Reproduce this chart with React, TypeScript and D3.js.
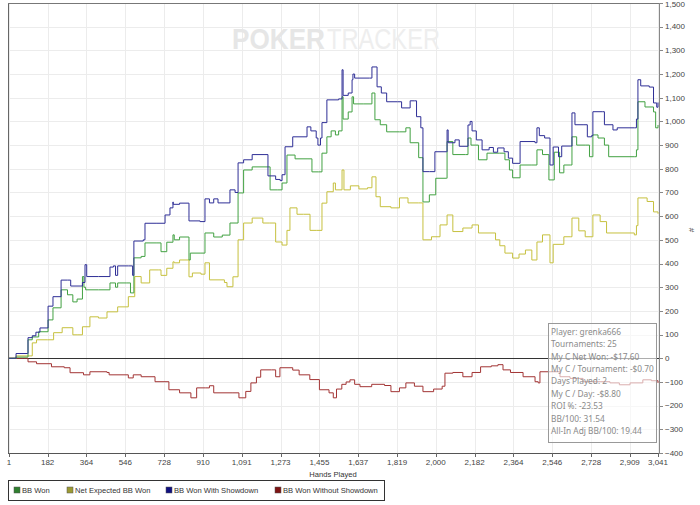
import React from 'react';
import * as d3 from 'd3';

// hand number, big blinds
const bbWon: [number, number][] = [
  [1, 0], [30, 0], [34, 5], [88, 5], [90, 78], [110, 90], [140, 112], [184, 162], [207, 213],
  [245, 289], [275, 268], [300, 238], [320, 250], [345, 345], [352, 300], [360, 289], [420, 289],
  [474, 318], [500, 300], [510, 318], [550, 318], [570, 276], [586, 424], [620, 430], [638, 487],
  [690, 487], [713, 450], [740, 490], [769, 521], [775, 500], [800, 512], [840, 512], [844, 415],
  [850, 444], [896, 444], [919, 529], [960, 512], [1000, 520], [1036, 571], [1074, 698], [1100, 795],
  [1140, 808], [1200, 808], [1224, 711], [1260, 711], [1280, 740], [1303, 858], [1341, 842],
  [1397, 842], [1420, 787], [1450, 787], [1467, 866], [1490, 935], [1510, 960], [1530, 943],
  [1545, 960], [1561, 1104], [1566, 1010], [1590, 1040], [1608, 1104], [1615, 1074], [1660, 1074],
  [1701, 1120], [1715, 1007], [1740, 986], [1770, 956], [1830, 956], [1860, 973], [1880, 910],
  [1920, 847], [1935, 847], [1940, 660], [1970, 690], [2000, 760], [2050, 760], [2053, 915],
  [2080, 860], [2140, 860], [2151, 930], [2165, 900], [2200, 838], [2240, 866], [2300, 866],
  [2324, 838], [2345, 795], [2360, 762], [2395, 816], [2450, 816], [2474, 880], [2500, 860],
  [2530, 753], [2555, 870], [2580, 783], [2600, 816], [2630, 816], [2638, 935], [2660, 900],
  [2700, 900], [2720, 851], [2736, 943], [2760, 930], [2790, 900], [2810, 851], [2930, 851],
  [2940, 880], [2947, 1083], [2980, 1061], [3020, 1040], [3030, 973], [3041, 985],
];

const netExpectedBbWon: [number, number][] = [
  [1, 0], [34, 10], [100, 10], [110, 65], [130, 78], [180, 78], [210, 108], [250, 129], [300, 99],
  [320, 99], [345, 133], [380, 175], [420, 170], [460, 196], [510, 217], [560, 260], [590, 345],
  [620, 318], [660, 373], [700, 373], [713, 350], [740, 380], [769, 407], [775, 403], [800, 415],
  [840, 415], [844, 344], [860, 360], [900, 355], [919, 403], [940, 331], [980, 331], [1010, 320],
  [1022, 302], [1050, 344], [1074, 500], [1100, 571], [1140, 592], [1190, 571], [1220, 571],
  [1250, 491], [1280, 478], [1303, 540], [1317, 635], [1350, 608], [1380, 608], [1411, 540],
  [1440, 540], [1467, 655], [1490, 703], [1520, 740], [1530, 711], [1561, 795], [1570, 711],
  [1600, 728], [1640, 715], [1680, 720], [1701, 766], [1720, 682], [1740, 640], [1790, 635],
  [1830, 677], [1870, 656], [1920, 656], [1940, 500], [1980, 513], [2020, 563], [2053, 605],
  [2080, 535], [2127, 550], [2170, 563], [2200, 529], [2254, 529], [2280, 500], [2300, 475],
  [2324, 444], [2360, 423], [2390, 440], [2420, 457], [2450, 415], [2474, 491], [2500, 521],
  [2535, 403], [2550, 481], [2600, 513], [2630, 513], [2638, 592], [2670, 538], [2700, 513],
  [2736, 605], [2770, 577], [2800, 529], [2930, 521], [2940, 560], [2947, 677], [2990, 662],
  [3020, 618], [3041, 610],
];

const bbWonWithShowdown: [number, number][] = [
  [1, 0], [30, 0], [34, 20], [88, 20], [90, 87], [110, 95], [127, 110], [146, 128], [184, 220],
  [207, 260], [245, 330], [275, 330], [290, 305], [334, 305], [345, 320], [357, 395], [365, 345],
  [420, 345], [474, 385], [490, 390], [500, 350], [510, 390], [560, 390], [580, 350], [586, 495],
  [630, 500], [638, 570], [690, 570], [732, 605], [755, 635], [769, 660], [770, 650], [800, 655],
  [840, 655], [844, 580], [896, 577], [919, 673], [940, 656], [960, 673], [980, 656], [1022, 656],
  [1036, 711], [1060, 700], [1074, 825], [1100, 838], [1140, 860], [1200, 860], [1214, 770],
  [1250, 755], [1271, 750], [1280, 775], [1294, 893], [1330, 935], [1397, 977], [1415, 960],
  [1440, 930], [1448, 900], [1460, 930], [1467, 995], [1481, 995], [1490, 1091], [1545, 1095],
  [1561, 1218], [1566, 1110], [1590, 1120], [1608, 1176], [1612, 1200], [1620, 1183], [1690, 1183],
  [1701, 1230], [1720, 1230], [1725, 1146], [1745, 1120], [1770, 1083], [1820, 1083], [1840, 1057],
  [1870, 1057], [1880, 1087], [1900, 1087], [1910, 1020], [1930, 973], [1940, 788], [1970, 788],
  [1996, 872], [2050, 872], [2053, 964], [2058, 910], [2090, 922], [2110, 895], [2151, 985],
  [2161, 1000], [2170, 960], [2190, 922], [2217, 880], [2250, 890], [2270, 870], [2290, 888],
  [2320, 872], [2340, 845], [2360, 823], [2390, 823], [2395, 915], [2465, 910], [2474, 973],
  [2485, 940], [2510, 930], [2535, 816], [2550, 892], [2575, 851], [2590, 896], [2630, 896],
  [2638, 1036], [2652, 986], [2690, 986], [2710, 935], [2730, 940], [2736, 1041], [2780, 1041],
  [2790, 986], [2830, 964], [2850, 973], [2930, 973], [2940, 1010], [2947, 1176], [2960, 1150],
  [3000, 1145], [3020, 1078], [3035, 1060], [3041, 1080],
];

const bbWonWithoutShowdown: [number, number][] = [
  [1, 0], [70, 0], [90, -15], [130, -23], [200, -36], [260, -40], [287, -61], [350, -70],
  [380, -57], [460, -60], [470, -70], [560, -83], [583, -70], [620, -78], [685, -99], [750, -133],
  [800, -146], [853, -167], [880, -125], [920, -125], [940, -116], [960, -146], [1050, -146],
  [1078, -167], [1110, -140], [1134, -104], [1160, -80], [1180, -49], [1230, -49], [1250, -78],
  [1270, -40], [1330, -50], [1360, -70], [1410, -90], [1455, -133], [1500, -146], [1520, -167],
  [1535, -130], [1560, -110], [1580, -100], [1598, -91], [1620, -110], [1645, -120], [1700, -110],
  [1760, -115], [1790, -141], [1830, -125], [1860, -104], [1900, -118], [1940, -141], [1990, -130],
  [2030, -118], [2043, -63], [2080, -60], [2127, -78], [2170, -60], [2210, -36], [2260, -32],
  [2291, -27], [2315, -49], [2350, -60], [2409, -78], [2465, -99], [2480, -104], [2488, -57],
  [2535, -57], [2582, -78], [2629, -85], [2690, -99], [2770, -99], [2816, -104], [2860, -112],
  [2910, -104], [2970, -91], [3010, -95], [3041, -104],
];

const xTicks = [1, 182, 364, 546, 728, 910, 1091, 1273, 1455, 1637, 1819, 2000, 2182, 2364, 2546, 2728, 2909, 3041];
const yTicks = [-400, -300, -200, -100, 0, 100, 200, 300, 400, 500, 600, 700, 800, 900, 1000, 1100, 1200, 1300, 1400, 1500];

const series = [
  { name: 'BB Won', data: bbWon, line: '#42a142', swatch: '#2f7f2f' },
  { name: 'Net Expected BB Won', data: netExpectedBbWon, line: '#c6c03e', swatch: '#9c9a33' },
  { name: 'BB Won With Showdown', data: bbWonWithShowdown, line: '#2e2e96', swatch: '#101080' },
  { name: 'BB Won Without Showdown', data: bbWonWithoutShowdown, line: '#a23434', swatch: '#7d1414' },
];

const statLines = [
  'Player: grenka666',
  'Tournaments: 25',
  'My C Net Won: -$17.60',
  'My C / Tournament: -$0.70',
  'Days Played: 2',
  'My C / Day: -$8.80',
  'ROI %: -23.53',
  'BB/100: 31.54',
  'All-In Adj BB/100: 19.44',
];

const legendX = [14, 67, 166, 275];

const W = 700;
const H = 505;
const plot = { left: 9, right: 658, top: 3, bottom: 453 };
const axisFont = '"Liberation Sans", Arial, sans-serif';

export default function App() {
  const x = d3.scaleLinear().domain([1, 3041]).range([plot.left, plot.right]);
  const y = d3.scaleLinear().domain([-400, 1500]).range([plot.bottom, plot.top]);
  const line = d3.line<[number, number]>()
    .x(d => x(d[0]))
    .y(d => y(d[1]))
    .curve(d3.curveStepAfter);
  const fmt = d3.format(',');

  return (
    <svg width={W} height={H} style={{ position: 'absolute', left: 0, top: 0, background: '#fff' }}>
      {/* grid */}
      <g stroke="#ececec" strokeWidth={1}>
        {xTicks.map(t => (
          <line key={'gx' + t} x1={Math.round(x(t)) + 0.5} x2={Math.round(x(t)) + 0.5} y1={plot.top} y2={plot.bottom} />
        ))}
        {yTicks.map(t => (
          <line key={'gy' + t} x1={8} x2={660} y1={Math.round(y(t)) + 0.5} y2={Math.round(y(t)) + 0.5} />
        ))}
      </g>

      {/* watermark */}
      <text x={232} y={49} fontFamily={axisFont} fontWeight="bold" fontSize={29} fill="#e6e6e6"
        textLength={93} lengthAdjust="spacingAndGlyphs">POKER</text>
      <text x={327} y={49} fontFamily={axisFont} fontSize={29} fill="#eeeeee"
        textLength={113} lengthAdjust="spacingAndGlyphs">TRACKER</text>

      {/* zero line */}
      <line x1={8} x2={660} y1={Math.round(y(0)) + 0.5} y2={Math.round(y(0)) + 0.5} stroke="#333" strokeWidth={1} />

      {/* series */}
      {[3, 1, 0, 2].map(i => (
        <path key={series[i].name} d={line(series[i].data) || ''} fill="none" stroke={series[i].line} strokeWidth={1} />
      ))}

      {/* frame */}
      <line x1={8.5} x2={8.5} y1={3} y2={453} stroke="#666" />
      <line x1={8} x2={660} y1={3.5} y2={3.5} stroke="#777" />
      <line x1={8} x2={661} y1={453.5} y2={453.5} stroke="#555" />
      <line x1={659.5} x2={659.5} y1={3} y2={454} stroke="#888" />

      {/* right axis */}
      {yTicks.map(t => (
        <g key={'ty' + t}>
          <line x1={659} x2={663} y1={Math.round(y(t)) + 0.5} y2={Math.round(y(t)) + 0.5} stroke="#888" />
          <text x={665} y={Math.max(y(t), 4.5)} dy="0.35em" fontFamily={axisFont} fontSize={8} fill="#444">{fmt(t)}</text>
        </g>
      ))}
      <text transform="translate(694,230) rotate(-90)" textAnchor="middle" fontFamily={axisFont} fontSize={8} fill="#444">#</text>

      {/* bottom axis */}
      {xTicks.map(t => (
        <g key={'tx' + t}>
          <line x1={Math.round(x(t)) + 0.5} x2={Math.round(x(t)) + 0.5} y1={453} y2={457} stroke="#666" />
          <text x={x(t)} y={465} textAnchor="middle" fontFamily={axisFont} fontSize={8} fill="#444">{fmt(t)}</text>
        </g>
      ))}
      <text x={333} y={477} textAnchor="middle" fontFamily={axisFont} fontSize={7.6} fill="#333">Hands Played</text>

      {/* stats box */}
      <rect x={548.5} y={323.5} width={108} height={119} fill="#fff" fillOpacity={0.6} stroke="#999" />
      {statLines.map((s, i) => (
        <text key={s} x={551} y={331.7 + i * 12.45} dy="0.35em" fontFamily='"Noto Sans", sans-serif' fontSize={8.3} fill="#8a8a8a">{s}</text>
      ))}

      {/* legend */}
      <rect x={8.5} y={480.5} width={376} height={20} fill="#fff" stroke="#333" />
      {series.map((s, i) => (
        <g key={'lg' + s.name}>
          <rect x={legendX[i]} y={487} width={6} height={6} fill={s.swatch} stroke="#555" strokeWidth={0.5} />
          <text x={legendX[i] + 8} y={490} dy="0.35em" fontFamily={axisFont} fontSize={7.6} fill="#333">{s.name}</text>
        </g>
      ))}
    </svg>
  );
}
